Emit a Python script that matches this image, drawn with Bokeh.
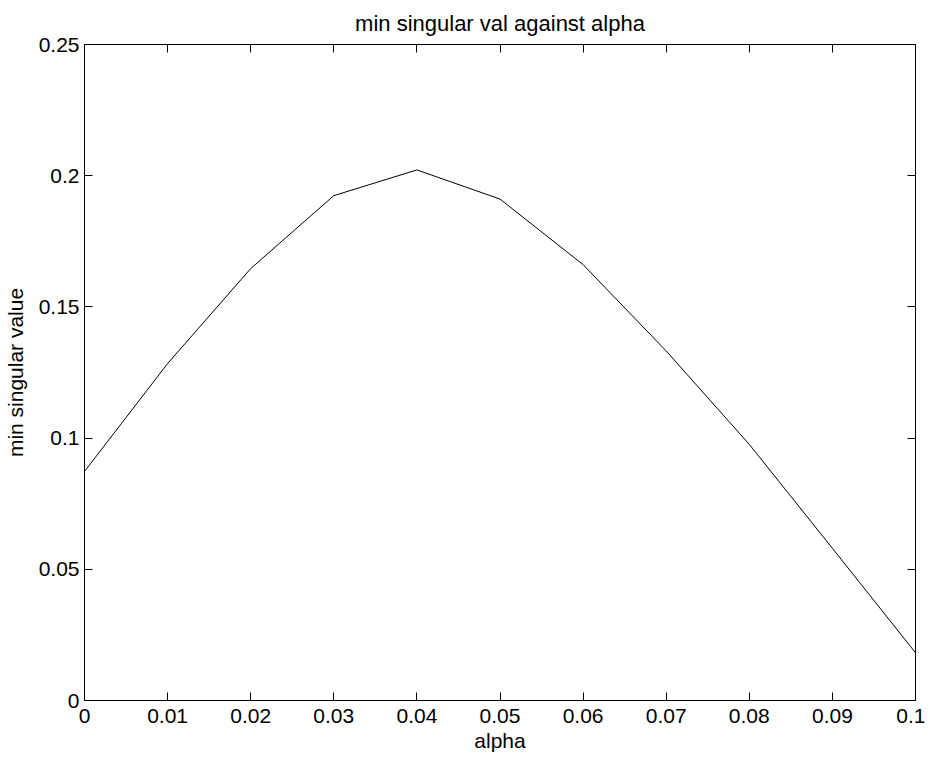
from bokeh.plotting import figure
from bokeh.models import LinearAxis, FixedTicker, Range1d
from bokeh.embed import file_html
from bokeh.resources import INLINE

alpha = [0.0, 0.01, 0.02, 0.03, 0.04, 0.05, 0.06, 0.07, 0.08, 0.09, 0.1]
min_sv = [0.0873, 0.1284, 0.1646, 0.1924, 0.2022, 0.1911, 0.1661, 0.1332, 0.0976, 0.0580, 0.0182]

x_ticks = [0.0, 0.01, 0.02, 0.03, 0.04, 0.05, 0.06, 0.07, 0.08, 0.09, 0.1]
x_tick_labels = ["0", "0.01", "0.02", "0.03", "0.04", "0.05", "0.06", "0.07", "0.08", "0.09", "0.1"]
y_ticks = [0.0, 0.05, 0.1, 0.15, 0.2, 0.25]
y_tick_labels = ["0", "0.05", "0.1", "0.15", "0.2", "0.25"]

FONT = "Liberation Sans"
FS = "21px"

p = figure(frame_width=831, frame_height=656, output_backend="svg", toolbar_location=None,
           x_range=Range1d(0, 0.1), y_range=Range1d(0, 0.25),
           title="min singular val against alpha",
           min_border_left=10, min_border_right=10, min_border_top=36, min_border_bottom=10)

p.background_fill_color = "white"
p.border_fill_color = "white"
p.outline_line_color = "black"
p.outline_line_width = 1
p.outline_line_alpha = 1
p.xgrid.visible = False
p.ygrid.visible = False

p.title.text_font = FONT
p.title.text_font_size = "22px"
p.title.text_font_style = "normal"
p.title.align = "center"
p.title.text_color = "black"
p.title.standoff = 17

def style_axis(ax, labels_map):
    ax.axis_line_color = "black"
    ax.major_tick_in = 8
    ax.major_tick_out = 0
    ax.minor_tick_line_color = None
    ax.major_tick_line_color = "black"
    ax.major_label_text_font = FONT
    ax.major_label_text_font_size = FS
    ax.major_label_text_color = "black"
    ax.major_label_overrides = labels_map
    ax.axis_label_text_font = FONT
    ax.axis_label_text_font_size = FS
    ax.axis_label_text_font_style = "normal"
    ax.axis_label_text_color = "black"

xmap = {x: l for x, l in zip(x_ticks, x_tick_labels)}
ymap = {y: l for y, l in zip(y_ticks, y_tick_labels)}
xblank = {x: "" for x in x_ticks}
yblank = {y: "" for y in y_ticks}

p.xaxis.ticker = FixedTicker(ticks=x_ticks)
p.yaxis.ticker = FixedTicker(ticks=y_ticks)
style_axis(p.xaxis[0], xmap)
style_axis(p.yaxis[0], ymap)
p.xaxis.axis_label = "alpha"
p.yaxis.axis_label = "min singular value"
p.xaxis.major_label_standoff = 8
p.yaxis.major_label_standoff = 5
p.xaxis.axis_label_standoff = 3
p.yaxis.axis_label_standoff = 9

top = LinearAxis(ticker=FixedTicker(ticks=x_ticks))
style_axis(top, xblank)
top.major_label_standoff = 0
p.add_layout(top, "above")
right = LinearAxis(ticker=FixedTicker(ticks=y_ticks))
style_axis(right, yblank)
right.major_label_standoff = 0
p.add_layout(right, "right")

p.line(alpha, min_sv, line_color="black", line_width=1)

open("out.html", "w").write(file_html(p, INLINE))
